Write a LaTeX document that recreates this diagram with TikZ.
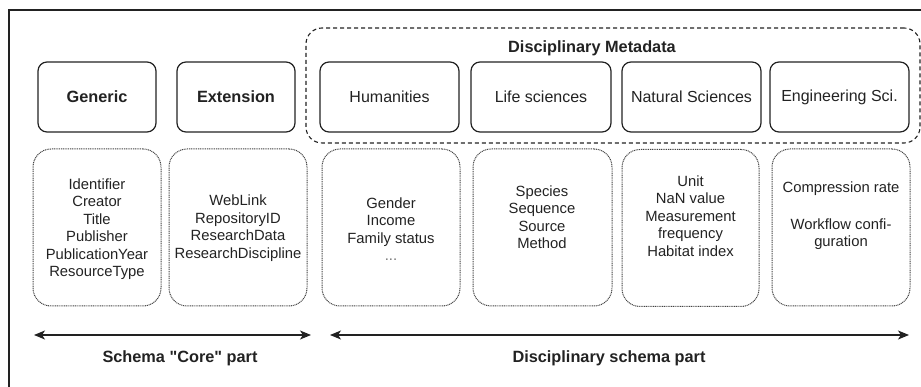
\documentclass[tikz,border=0pt]{standalone}
\usepackage{fontspec}
\setmainfont{Liberation Sans}
\newfontfamily\rawsans{Liberation Sans}
\usetikzlibrary{arrows.meta}
\definecolor{ink}{HTML}{222222}
\definecolor{dotc}{HTML}{444444}
\begin{document}
\begin{tikzpicture}[x=1pt,y=-1pt,
  cat/.style={draw=ink, line width=1.2pt, rounded corners=9pt, minimum height=70pt, inner sep=0pt, text=ink, font=\fontsize{16}{18}\selectfont},
  attrbox/.style={draw=dotc, line width=1pt, dash pattern=on 1pt off 0.8pt, rounded corners=18pt, minimum height=157pt, inner sep=0pt},
  attrtext/.style={align=center, text=ink, inner sep=0pt, font=\fontsize{14.8}{17.5}\selectfont},
  group/.style={draw=ink, line width=1.1pt, dash pattern=on 4pt off 3pt, rounded corners=16pt, inner sep=0pt},
  title/.style={font=\rawsans\bfseries\fontsize{16.3}{18}\selectfont, text=ink, inner sep=0pt},
  span/.style={{Stealth[length=11pt,width=9pt,inset=3pt]}-{Stealth[length=11pt,width=9pt,inset=3pt]}, line width=1.2pt, draw=ink}
]
\useasboundingbox (0,0) rectangle (921,387);
% frame
\coordinate (fa) at (9,387);
\coordinate (fb) at (9,10);
\coordinate (fc) at (921,10);
\draw[line width=1.2pt, ink] (fa) -- (fb) -- (fc);

% disciplinary group
\node[group, minimum width=614pt, minimum height=115pt] (dm) at (613,85.5) {};
\node[title] (dmt) at (592,48) {Disciplinary Metadata};

% category boxes
\node[cat, minimum width=118pt, font=\bfseries\fontsize{16.3}{18}\selectfont] (gen) at (97,97) {Generic};
\node[cat, minimum width=118pt, font=\bfseries\fontsize{16.3}{18}\selectfont] (ext) at (236,97) {Extension};
\node[cat, minimum width=139pt] (hum) at (389.5,97) {Humanities};
\node[cat, minimum width=140pt] (life) at (541,97) {Life sciences};
\node[cat, minimum width=139pt] (nat) at (691.5,97) {Natural Sciences};
\node[cat, minimum width=139pt] (eng) at (839.5,97) {Engineering Sci.};

% attribute boxes
\node[attrbox, minimum width=128pt] (ga) at (97,227.5) {};
\node[attrbox, minimum width=138pt] (ea) at (238,227.5) {};
\node[attrbox, minimum width=138pt] (ha) at (391,227.5) {};
\node[attrbox, minimum width=139pt] (la) at (542.5,227.5) {};
\node[attrbox, minimum width=137pt] (na) at (690.5,228) {};
\node[attrbox, minimum width=138pt] (ena) at (841,227.5) {};

\node[attrtext] (gt) at (97,229) {Identifier\\Creator\\Title\\Publisher\\PublicationYear\\ResourceType};
\node[attrtext] (et) at (238,228) {WebLink\\RepositoryID\\ResearchData\\ResearchDiscipline};
\node[attrtext] (htx) at (391,229) {Gender\\Income\\Family status\\{\color{black!55}...}};
\node[attrtext] (lt) at (542,217) {Species\\Sequence\\Source\\Method};
\node[attrtext] (nt) at (690.5,216) {Unit\\NaN value\\Measurement\\frequency\\Habitat index};
\node[attrtext] (ent) at (841,216) {Compression rate\\[19pt]Workflow confi-\\guration};

% span arrows
\coordinate (c1) at (34,335);
\coordinate (c2) at (311,335);
\coordinate (d1) at (330,335);
\coordinate (d2) at (909,335);
\draw[span] (c1) -- (c2);
\draw[span] (d1) -- (d2);
\node[title] (cl) at (180,358) {Schema "Core" part};
\node[title] (dl) at (609,358) {Disciplinary schema part};
\end{tikzpicture}
\end{document}
